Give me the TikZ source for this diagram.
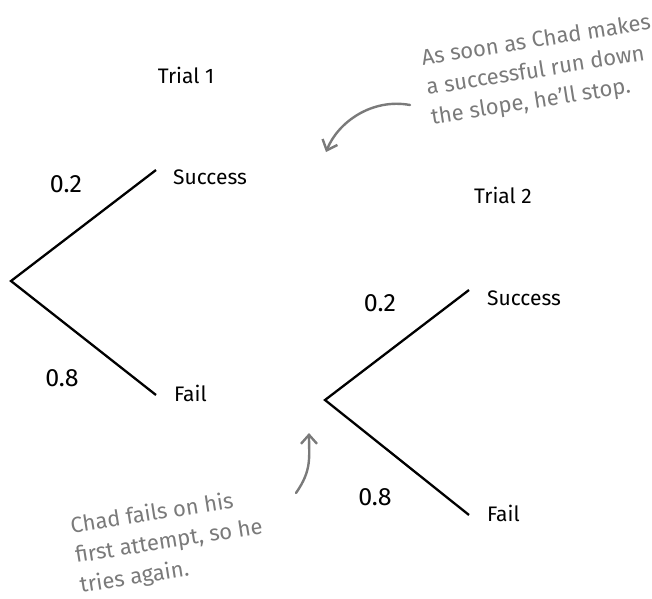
\documentclass[tikz,border=0pt]{standalone}
\usepackage{fontspec}
\setmainfont{Fira Sans}
\usetikzlibrary{positioning,arrows.meta}
\definecolor{notegray}{HTML}{7A7A7A}
\begin{document}
\begin{tikzpicture}[x=1pt, y=-1pt, line width=2.3pt,
  every node/.style={font=\fontsize{21}{25}\selectfont, inner sep=0pt},
  prob/.style={font=\fontsize{25}{28}\selectfont},
  note/.style={text=notegray, align=left, rotate=9, font=\fontsize{22}{30}\selectfont},
  notearrow/.style={draw=notegray, line width=2.4pt, line cap=round, -{Straight Barb[length=9pt, width=16pt, line width=2.4pt]}}]
\useasboundingbox (0,0) rectangle (652,598);
% trial 1
\coordinate (r1) at (11,281);
\coordinate (s1) at (156,170);
\coordinate (f1) at (156,395);
\node (t1) at (186,75) {Trial 1};
\node[right=16pt of s1, yshift=-7pt] (s1lbl) {Success};
\node[right=17pt of f1, yshift=2pt] (f1lbl) {Fail};
\node[prob] (p1a) at (66,184) {0.2};
\node[prob] (p1b) at (62,378) {0.8};
\draw (s1) -- (r1) -- (f1);
% trial 2
\coordinate (r2) at (325,400);
\coordinate (s2) at (469,290);
\coordinate (f2) at (469,515);
\node (t2) at (503,195) {Trial 2};
\node[right=17pt of s2, yshift=-8pt] (s2lbl) {Success};
\node[right=17pt of f2, yshift=2pt] (f2lbl) {Fail};
\node[prob] (p2a) at (380,303) {0.2};
\node[prob] (p2b) at (375,497) {0.8};
\draw (s2) -- (r2) -- (f2);
% notes
\node[note] (n1) at (541,71) {As soon as Chad makes\\a successful run down\\the slope, he'll stop.};
\node[note] (n2) at (169,542) {Chad fails on his\\first attempt, so he\\tries again.};
\coordinate (a1) at (410,105);
\coordinate (a1tip) at (326,152);
\coordinate (a2) at (296,493);
\coordinate (a2tip) at (309,433);
\draw[notearrow] (a1) .. controls (372,98) and (338,122) .. (a1tip);
\draw[notearrow] (a2) .. controls (312,470) and (309,458) .. (a2tip);
\end{tikzpicture}
\end{document}
